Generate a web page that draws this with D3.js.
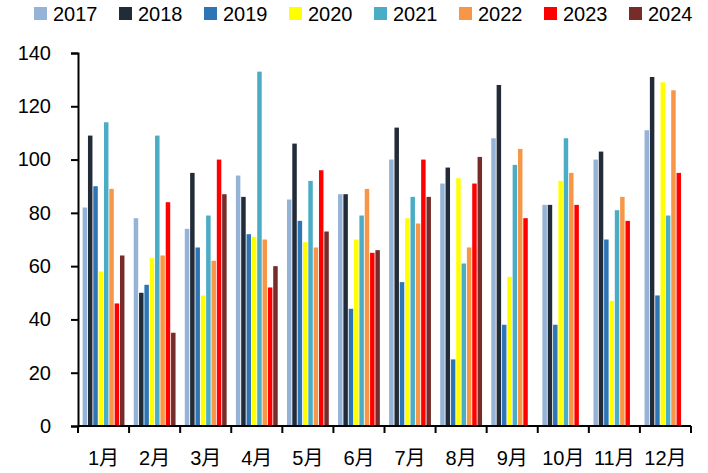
<!DOCTYPE html>
<html><head><meta charset="utf-8">
<script src="https://cdn.jsdelivr.net/npm/d3@7"></script>
<style>body{margin:0;background:#fff}svg{display:block}</style>
</head><body>
<script>
const months = ["1月","2月","3月","4月","5月","6月","7月","8月","9月","10月","11月","12月"];
const years = ["2017","2018","2019","2020","2021","2022","2023","2024"];
const colors = ["#95B3D7","#222B38","#2E75B6","#FFFF00","#4BACC6","#F79646","#FF0000","#772C2A"];
const v2017 = [82,78,74,94,85,87,100,91,108,83,100,111];
const v2018 = [109,50,95,86,106,87,112,97,128,83,103,131];
const v2019 = [90,53,67,72,77,44,54,25,38,38,70,49];
const v2020 = [58,63,49,71,69,70,78,93,56,92,47,129];
const v2021 = [114,109,79,133,92,79,86,61,98,108,81,79];
const v2022 = [89,64,62,70,67,89,76,67,104,95,86,126];
const v2023 = [46,84,100,52,96,65,100,91,78,83,77,95];
const v2024 = [64,35,87,60,73,66,86,101,null,null,null,null];
const yTicks = [0,20,40,60,80,100,120,140];
const series = [v2017,v2018,v2019,v2020,v2021,v2022,v2023,v2024];

const W=708,H=473;
const svg=d3.select("body").append("svg").attr("width",W).attr("height",H);
const x0=d3.scaleBand().domain(months).range([78,691]);
const x1=d3.scaleBand().domain(years).range([4.2,x0.bandwidth()-4.2]).paddingInner(0.16).paddingOuter(0.08);
const y=d3.scaleLinear().domain([0,140]).range([426,53]);

const g=svg.append("g");
months.forEach((m,i)=>{
  years.forEach((yr,j)=>{
    const v=series[j][i];
    if(v==null) return;
    g.append("rect").attr("x",x0(m)+x1(yr)).attr("width",x1.bandwidth())
      .attr("y",y(v)).attr("height",y(0)-y(v)).attr("fill",colors[j]);
  });
});

// y axis
const ya=svg.append("g").attr("transform","translate(78,0)")
  .call(d3.axisLeft(y).tickValues(yTicks).tickSize(7).tickPadding(20));
ya.select(".domain").attr("stroke","#000").attr("stroke-width",2);
ya.selectAll(".tick line").attr("stroke","#000").attr("stroke-width",2);
ya.selectAll("text").attr("font-family","'Liberation Sans',Arial,sans-serif").attr("font-size",20).attr("fill","#000");

// x axis
const xa=svg.append("g").attr("transform","translate(0,426)");
xa.append("line").attr("x1",78).attr("x2",691).attr("stroke","#000").attr("stroke-width",2);
const bounds=months.map(m=>x0(m)).concat([x0.range()[1]]);
xa.selectAll("line.t").data(bounds).join("line").attr("class","t")
  .attr("x1",d=>d).attr("x2",d=>d).attr("y1",0).attr("y2",7).attr("stroke","#000").attr("stroke-width",2);
xa.selectAll("text").data(months).join("text")
  .attr("x",d=>x0(d)+x0.bandwidth()/2).attr("y",39).attr("text-anchor","middle")
  .attr("font-family","'Liberation Sans','Noto Sans CJK SC',sans-serif").attr("font-size",20).attr("fill","#000")
  .text(d=>d);

// legend
const lg=svg.append("g");
years.forEach((yr,j)=>{
  const lx=34+j*85;
  lg.append("rect").attr("x",lx).attr("y",7).attr("width",13).attr("height",13).attr("fill",colors[j]);
  lg.append("text").attr("x",lx+19).attr("y",21).attr("font-family","'Liberation Sans',Arial,sans-serif")
    .attr("font-size",20).attr("fill","#000").text(yr);
});
</script>
</body></html>
